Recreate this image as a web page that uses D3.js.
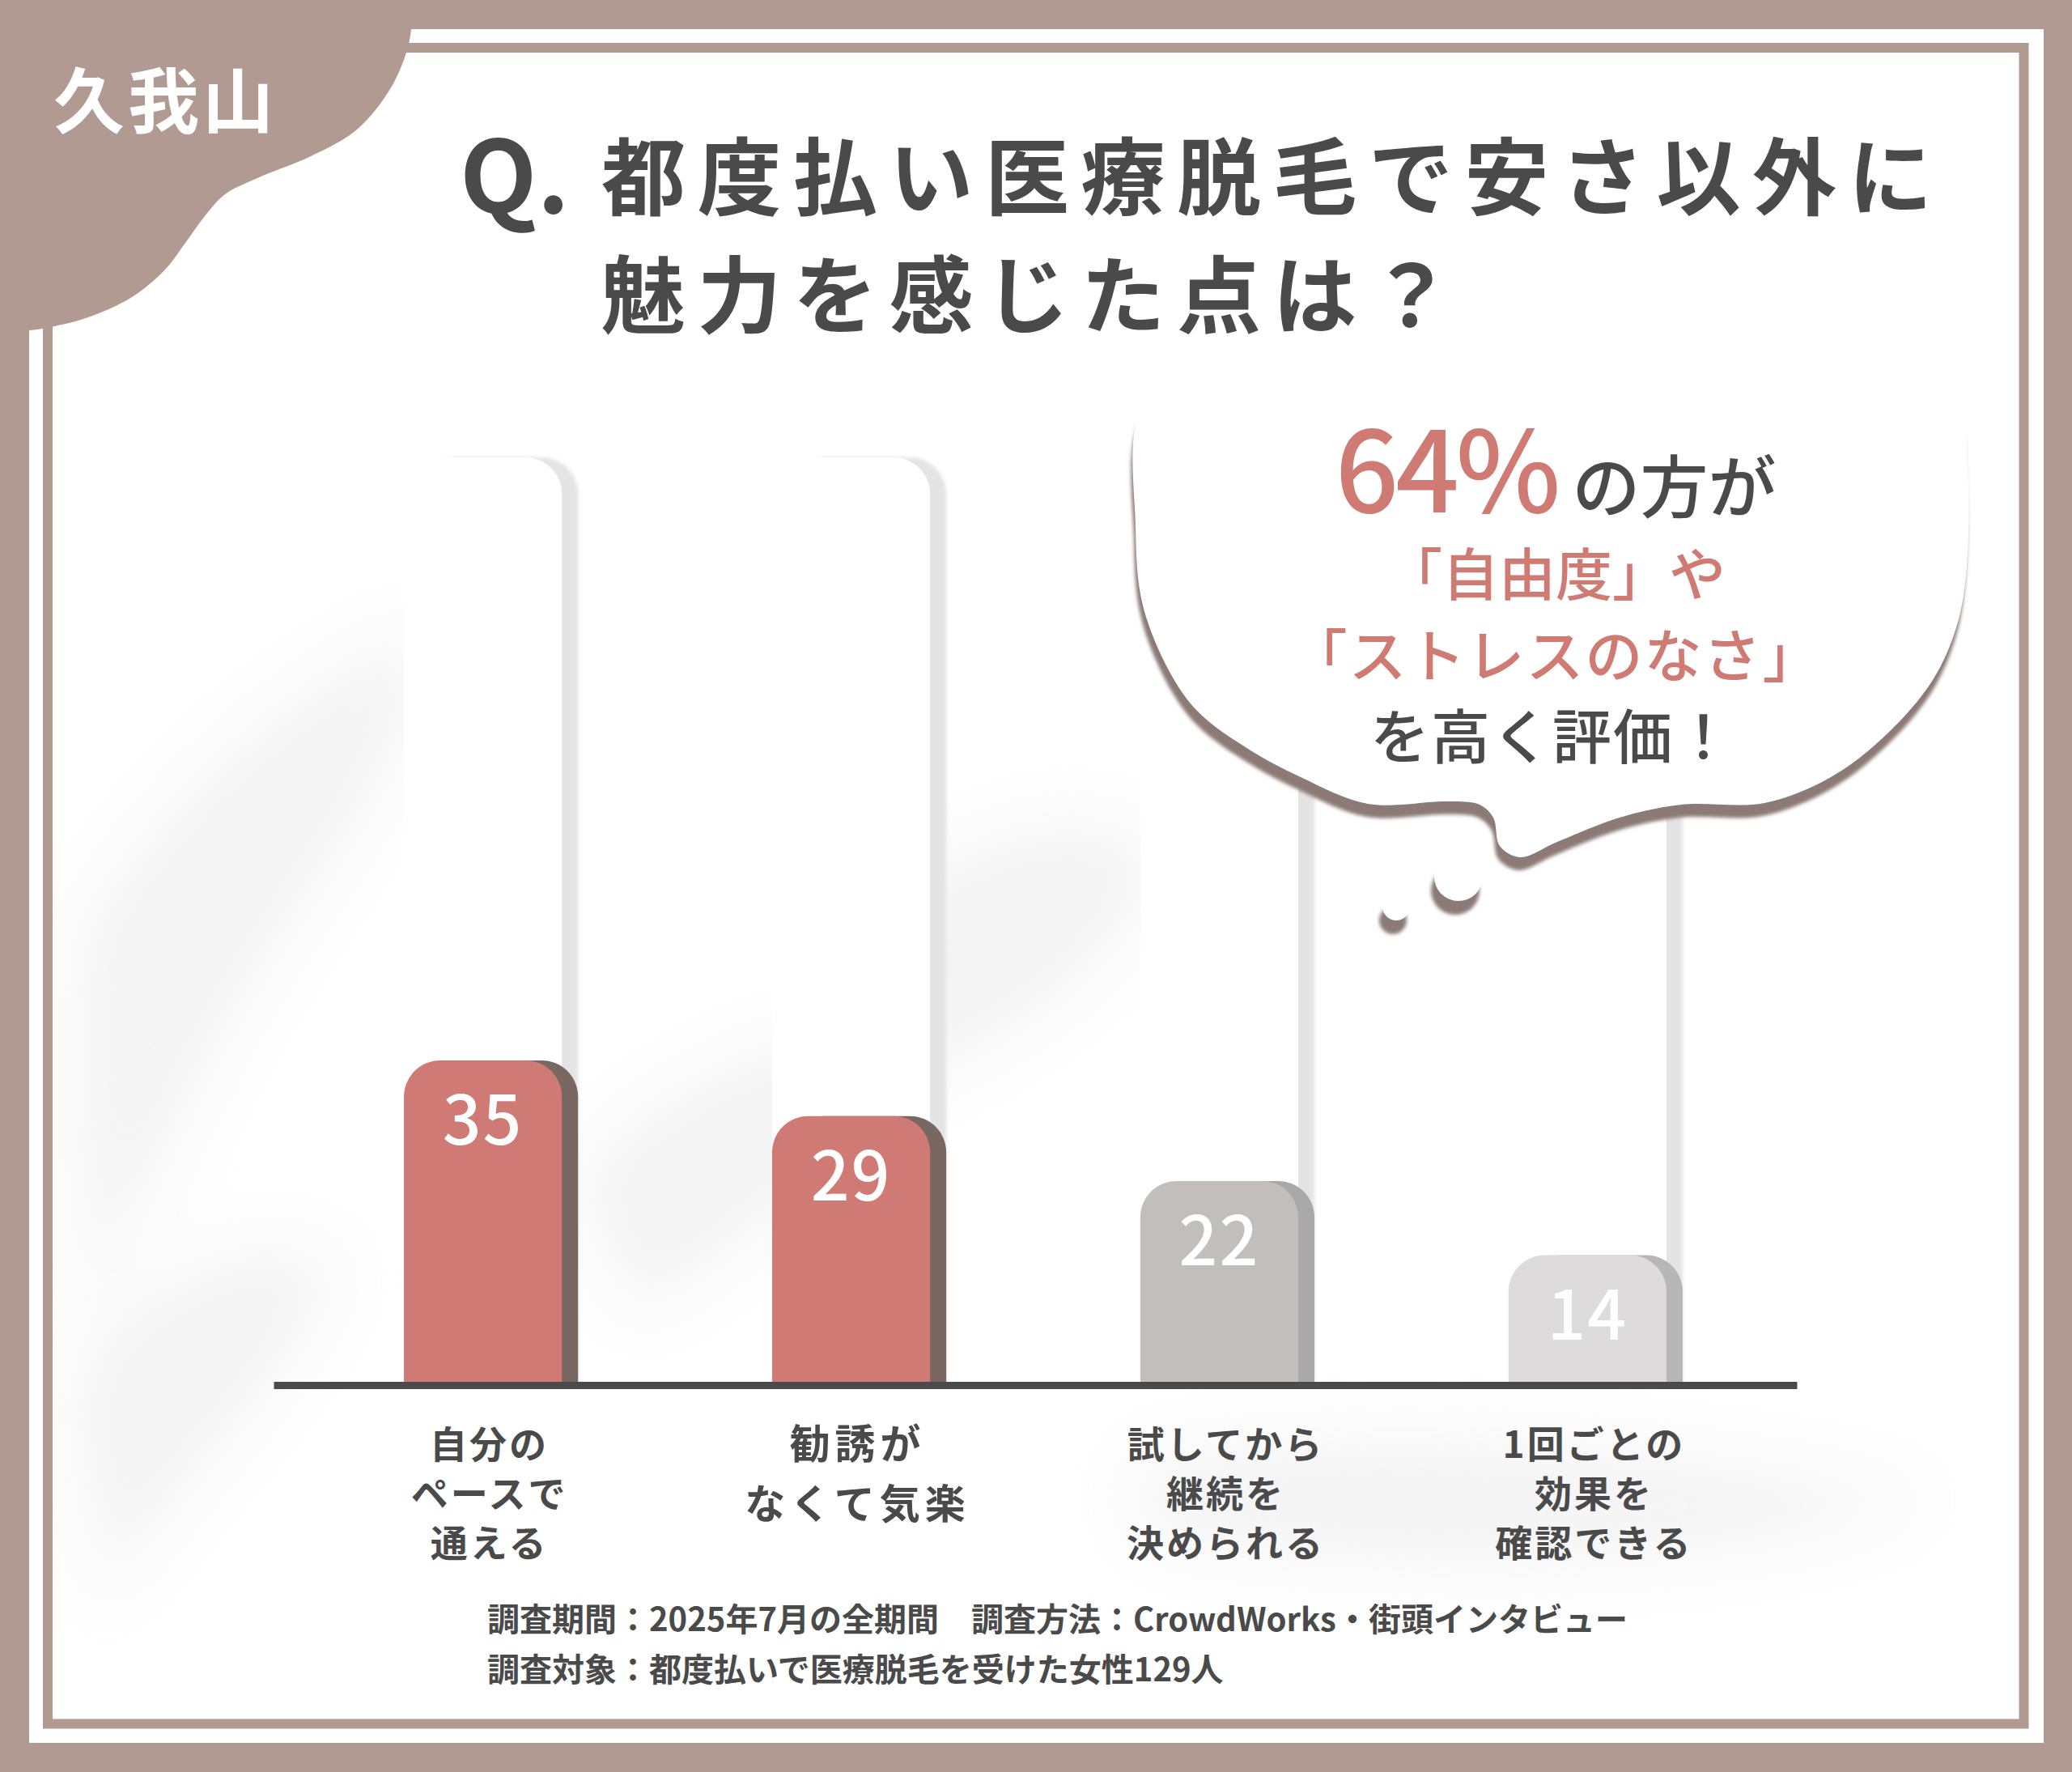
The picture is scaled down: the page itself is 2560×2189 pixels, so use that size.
<!DOCTYPE html>
<html lang="ja">
<head>
<meta charset="UTF-8">
<title>都度払い医療脱毛 アンケート</title>
<script src="https://d3js.org/d3.v7.min.js"></script>
<style>
    body { margin: 0; background: #b09a92; }
    svg { display: block; }
    text { font-family: "Noto Sans CJK JP", "Noto Sans", sans-serif; }
</style>
</head>
<body>
<svg width="2560" height="2189"></svg>
<script>
    // data
    const categories = [
        ["自分の", "ペースで", "通える"],
        ["勧誘が", "なくて気楽"],
        ["試してから", "継続を", "決められる"],
        ["1回ごとの", "効果を", "確認できる"]
    ];
    const values = [35, 29, 22, 14];
    const trackMax = 100;
    const titleLines = ["都度払い医療脱毛で安さ以外に", "魅力を感じた点は？"];
    const footerLines = [
        ["調査期間：2025年7月の全期間", "調査方法：CrowdWorks・街頭インタビュー"],
        ["調査対象：都度払いで医療脱毛を受けた女性129人"]
    ];

    // colours
    const taupe = "#b09a92";
    const ink = "#4a4a4a";
    const coral = "#d07a74";
    const barFace = ["#cf7a74", "#cf7a74", "#c1bebd", "#dddbdb"];
    const barSide = ["#7b6761", "#7b6761", "#a9a9a9", "#b8b7b7"];

    const svg = d3.select("svg");
    const W = 2560, H = 2189;

    const defs = svg.append("defs");
    defs.append("filter").attr("id", "soft")
        .attr("x", "-50%").attr("y", "-50%").attr("width", "200%").attr("height", "200%")
        .append("feGaussianBlur").attr("stdDeviation", 45);
    defs.append("filter").attr("id", "blur2")
        .append("feGaussianBlur").attr("stdDeviation", 2);
    defs.append("clipPath").attr("id", "inner")
        .append("rect").attr("x", 65).attr("y", 65).attr("width", 2430).attr("height", 2059);

    // frame
    svg.append("rect").attr("width", W).attr("height", H).attr("fill", taupe);
    svg.append("rect").attr("x", 36).attr("y", 36).attr("width", 2489).attr("height", 2117).attr("fill", "#fff");

    // faint marble smudges in the background
    const smudge = svg.append("g").attr("clip-path", "url(#inner)")
        .append("g").attr("filter", "url(#soft)").attr("fill", "#e4e4e4").attr("opacity", 0.4);
    smudge.append("path").attr("d", "M90,1150 C250,900 420,820 520,760 C560,900 420,1050 300,1250 C220,1400 160,1550 90,1650 Z");
    smudge.append("path").attr("d", "M80,1700 C200,1550 330,1500 430,1560 C380,1700 250,1800 120,2000 Z");
    smudge.append("path").attr("d", "M700,1450 C850,1300 1000,1250 1150,1280 C1100,1420 950,1520 780,1640 Z");
    smudge.append("path").attr("d", "M1050,1150 C1200,1000 1350,980 1450,1050 C1400,1200 1250,1300 1100,1350 Z");
    smudge.append("path").attr("d", "M1400,1800 C1700,1750 2100,1780 2400,1850 C2200,1950 1700,1960 1400,1900 Z");

    svg.append("rect").attr("x", 59).attr("y", 59).attr("width", 2441.5).attr("height", 2070.5)
        .attr("fill", "none").attr("stroke", taupe).attr("stroke-width", 12);

    // corner tab
    const blobPts = [[0, 0], [508, 0], [508, 36], [502, 65], [482, 110], [441, 160], [384, 193],
        [318, 220], [278, 240], [253, 267], [229, 300], [204, 333], [163, 367], [106, 393],
        [57, 405], [37, 408], [0, 410]];
    svg.append("path")
        .attr("d", d3.line().curve(d3.curveCatmullRom.alpha(0.5))(blobPts) + "Z")
        .attr("fill", taupe);
    svg.append("text").attr("x", 66).attr("y", 157)
        .attr("font-size", 88).attr("font-weight", 700).attr("fill", "#fff")
        .attr("letter-spacing", 4).text("久我山");

    // title
    svg.append("text").attr("x", 568).attr("y", 263)
        .attr("font-size", 124).attr("font-weight", 700).attr("fill", ink).text("Q.");
    svg.selectAll("text.title").data(titleLines).join("text")
        .attr("class", "title")
        .attr("x", 743).attr("y", (d, i) => 258 + i * 146)
        .attr("font-size", 104).attr("font-weight", 700).attr("fill", ink)
        .attr("letter-spacing", 14.5)
        .text(d => d);

    // scales
    const x = d3.scaleBand().domain(d3.range(values.length))
        .range([338, 2220]).paddingInner(0.571).paddingOuter(0.354);
    const y = d3.scaleLinear().domain([0, trackMax]).range([1711, 565]);
    const bw = x.bandwidth();
    const side = 20, r = 45;

    const topRounded = (x0, y0, w, h, rr) =>
        `M${x0},${y0 + h}V${y0 + rr}A${rr},${rr} 0 0 1 ${x0 + rr},${y0}H${x0 + w - rr}` +
        `A${rr},${rr} 0 0 1 ${x0 + w},${y0 + rr}V${y0 + h}Z`;

    // background tracks
    const tracks = svg.append("g");
    tracks.selectAll("path.track-side").data(values).join("path")
        .attr("class", "track-side")
        .attr("d", (d, i) => topRounded(x(i) + side, y(trackMax), bw, y(0) - y(trackMax), r))
        .attr("fill", "#e4e4e4").attr("filter", "url(#blur2)");
    tracks.selectAll("path.track-face").data(values).join("path")
        .attr("class", "track-face")
        .attr("d", (d, i) => topRounded(x(i), y(trackMax), bw, y(0) - y(trackMax), r))
        .attr("fill", "#fff");

    // thought bubble
    const bubblePts = [[1480, 452], [1920, 446], [2360, 452], [2420, 495], [2431, 580], [2430, 700],
        [2418, 772], [2388, 840], [2330, 908], [2262, 960], [2180, 992], [2077, 994], [2001, 1010],
        [1924, 1040], [1878, 1059], [1853, 1045], [1845, 1010], [1828, 994], [1790, 990],
        [1690, 993], [1607, 960], [1545, 927], [1483, 882], [1449, 837], [1412, 748],
        [1403, 650], [1410, 505]];
    const bubblePath = d3.line().curve(d3.curveCatmullRomClosed.alpha(0.5))(bubblePts);
    const bubble = svg.append("g");
    bubble.append("path").attr("d", bubblePath).attr("fill", "#8b7a74")
        .attr("transform", "translate(-2,16)").attr("filter", "url(#blur2)");
    bubble.append("path").attr("d", bubblePath).attr("fill", "#fff");
    const dots = [[1802, 1083, 30], [1725, 1120, 17]];
    bubble.selectAll("circle.dot-shadow").data(dots).join("circle")
        .attr("class", "dot-shadow")
        .attr("cx", d => d[0] - 4).attr("cy", d => d[1] + 17).attr("r", d => d[2])
        .attr("fill", "#8b7a74").attr("filter", "url(#blur2)");
    bubble.selectAll("circle.dot").data(dots).join("circle")
        .attr("class", "dot")
        .attr("cx", d => d[0]).attr("cy", d => d[1]).attr("r", d => d[2])
        .attr("fill", "#fff");

    const bx = 1922;
    const l1 = bubble.append("text").attr("x", bx).attr("y", 633).attr("text-anchor", "middle")
        .attr("font-weight", 500);
    l1.append("tspan").attr("font-size", 138).attr("fill", coral)
        .attr("letter-spacing", -4).text("64%");
    l1.append("tspan").attr("font-size", 84).attr("fill", ink).attr("dx", 18)
        .attr("letter-spacing", 0).text("の方が");
    bubble.append("text").attr("x", bx).attr("y", 736).attr("text-anchor", "middle")
        .attr("font-size", 70).attr("font-weight", 500).attr("fill", coral)
        .text("「自由度」や");
    bubble.append("text").attr("x", bx).attr("y", 836).attr("text-anchor", "middle")
        .attr("font-size", 71).attr("font-weight", 500).attr("fill", coral)
        .attr("letter-spacing", 2).text("「ストレスのなさ」");
    bubble.append("text").attr("x", bx - 4).attr("y", 937).attr("text-anchor", "middle")
        .attr("font-size", 73).attr("font-weight", 500).attr("fill", ink)
        .attr("letter-spacing", 2).text("を高く評価！");

    // bars
    const bars = svg.append("g");
    bars.selectAll("path.bar-side").data(values).join("path")
        .attr("class", "bar-side")
        .attr("d", (d, i) => topRounded(x(i) + side, y(d), bw, y(0) - y(d), r))
        .attr("fill", (d, i) => barSide[i]);
    bars.selectAll("path.bar-face").data(values).join("path")
        .attr("class", "bar-face")
        .attr("d", (d, i) => topRounded(x(i), y(d), bw, y(0) - y(d), r))
        .attr("fill", (d, i) => barFace[i]);
    bars.selectAll("text.value").data(values).join("text")
        .attr("class", "value")
        .attr("x", (d, i) => x(i) + bw / 2).attr("y", d => y(d) + 104)
        .attr("text-anchor", "middle").attr("font-size", 84).attr("font-weight", 500)
        .attr("fill", "#fff").attr("letter-spacing", 2)
        .text(d => d);

    // axis
    const axis = svg.append("g").attr("transform", `translate(0,${y(0)})`)
        .call(d3.axisBottom(x).tickSize(0).tickFormat(""));
    axis.select(".domain").attr("stroke", ink).attr("stroke-width", 9);
    axis.selectAll(".tick").each(function (i) {
        const lines = categories[i];
        const two = lines.length === 2;
        const t = d3.select(this).append("text")
            .attr("x", 8).attr("text-anchor", "middle")
            .attr("font-size", two ? 50 : 46).attr("font-weight", 700).attr("fill", ink)
            .attr("letter-spacing", two ? 6 : 3);
        t.selectAll("tspan").data(lines).join("tspan")
            .attr("x", 8)
            .attr("y", (d, k) => (two ? 91 : 90) + k * (two ? 74 : 61))
            .text(d => d);
    });

    // footer
    const foot = svg.append("g").attr("font-size", 40).attr("font-weight", 700).attr("fill", ink);
    footerLines.forEach((parts, li) => {
        parts.forEach((p, pi) => {
            foot.append("text").attr("x", pi === 0 ? 602 : 1200).attr("y", 2015 + li * 62).text(p);
        });
    });
</script>
</body>
</html>
